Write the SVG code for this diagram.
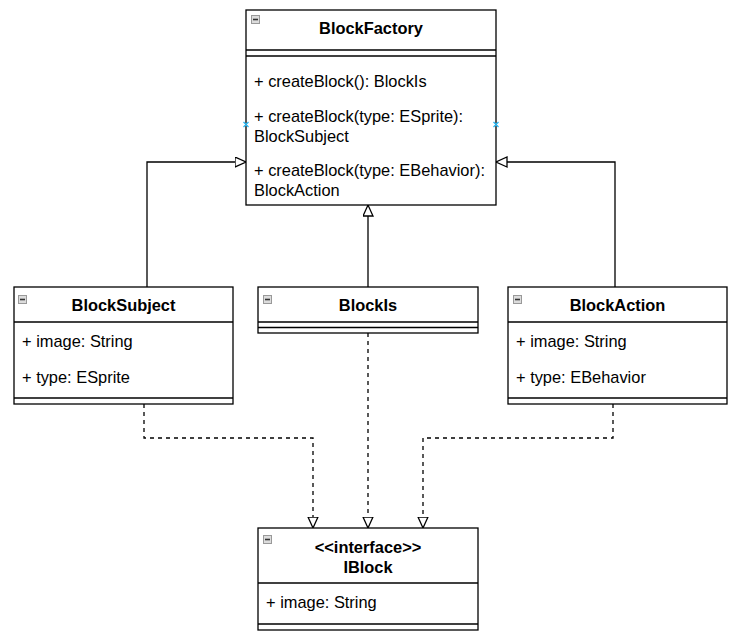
<svg xmlns="http://www.w3.org/2000/svg" width="740" height="640" viewBox="0 0 740 640">
<defs>
<style>
.box{fill:#fff;stroke:#000;stroke-width:1.3}
.ln{fill:none;stroke:#000;stroke-width:1.3}
.t{font-family:"Liberation Sans",Arial,sans-serif;font-size:16.4px;fill:#000}
.b{font-weight:bold;text-anchor:middle}
.icon{fill:#dcdcdc;stroke:#999;stroke-width:1}
.ibar{stroke:#333;stroke-width:1.6}
.edge{fill:none;stroke:#000;stroke-width:1.3}
.dash{stroke-dasharray:4 4}
.pt{stroke:#29b6f2;stroke-width:1.3}
</style>
<marker id="tri" markerUnits="userSpaceOnUse" markerWidth="14" markerHeight="12" refX="11.5" refY="5.5" orient="auto" viewBox="0 0 14 12">
<path d="M0.5,0.5 L11.5,5.5 L0.5,10.5 Z" fill="#fff" stroke="#000" stroke-width="1.3"/>
</marker>
</defs>
<rect width="740" height="640" fill="#fff"/>

<g id="connectors">
<path class="edge" d="M147,287 V162 H246" marker-end="url(#tri)"/>
<path class="edge" d="M368,287 V205" marker-end="url(#tri)"/>
<path class="edge" d="M615,287 V162 H496" marker-end="url(#tri)"/>
<path class="edge dash" d="M144,404 V438 H313 V528" marker-end="url(#tri)"/>
<path class="edge dash" d="M368,333 V528" marker-end="url(#tri)"/>
<path class="edge dash" d="M613,404 V438 H423 V528" marker-end="url(#tri)"/>
</g>

<g id="BlockFactory">
<rect class="box" x="246" y="10" width="250" height="195"/>
<line class="ln" x1="246" y1="50" x2="496" y2="50"/>
<line class="ln" x1="246" y1="56" x2="496" y2="56"/>
<rect class="icon" x="251.5" y="15.5" width="8" height="8"/>
<line class="ibar" x1="253" y1="19.5" x2="258" y2="19.5"/>
<text class="t b" x="371" y="34">BlockFactory</text>
<text class="t" x="254" y="87">+ createBlock(): BlockIs</text>
<text class="t" x="254" y="122">+ createBlock(type: ESprite):</text>
<text class="t" x="254" y="142">BlockSubject</text>
<text class="t" x="254" y="176">+ createBlock(type: EBehavior):</text>
<text class="t" x="254" y="196">BlockAction</text>
<path class="pt" d="M243.5,122 l5,5 M248.5,122 l-5,5 M493.5,122 l5,5 M498.5,122 l-5,5"/>
</g>

<g id="BlockSubject">
<rect class="box" x="14" y="287" width="219" height="117"/>
<line class="ln" x1="14" y1="322" x2="233" y2="322"/>
<line class="ln" x1="14" y1="398" x2="233" y2="398"/>
<rect class="icon" x="18.5" y="295.5" width="8" height="8"/>
<line class="ibar" x1="20" y1="299.5" x2="25" y2="299.5"/>
<text class="t b" x="123.5" y="311">BlockSubject</text>
<text class="t" x="22" y="347">+ image: String</text>
<text class="t" x="22" y="383">+ type: ESprite</text>
</g>

<g id="BlockIs">
<rect class="box" x="258" y="287" width="220" height="46"/>
<line class="ln" x1="258" y1="322" x2="478" y2="322"/>
<line class="ln" x1="258" y1="327.5" x2="478" y2="327.5"/>
<rect class="icon" x="263.5" y="295.5" width="8" height="8"/>
<line class="ibar" x1="265" y1="299.5" x2="270" y2="299.5"/>
<text class="t b" x="368" y="311">BlockIs</text>
</g>

<g id="BlockAction">
<rect class="box" x="508" y="287" width="219" height="117"/>
<line class="ln" x1="508" y1="322" x2="727" y2="322"/>
<line class="ln" x1="508" y1="398" x2="727" y2="398"/>
<rect class="icon" x="513.5" y="295.5" width="8" height="8"/>
<line class="ibar" x1="515" y1="299.5" x2="520" y2="299.5"/>
<text class="t b" x="617.5" y="311">BlockAction</text>
<text class="t" x="516" y="347">+ image: String</text>
<text class="t" x="516" y="383">+ type: EBehavior</text>
</g>

<g id="IBlock">
<rect class="box" x="258" y="528" width="220" height="102"/>
<line class="ln" x1="258" y1="583" x2="478" y2="583"/>
<line class="ln" x1="258" y1="624" x2="478" y2="624"/>
<rect class="icon" x="263.5" y="535.5" width="8" height="8"/>
<line class="ibar" x1="265" y1="539.5" x2="270" y2="539.5"/>
<text class="t b" x="368" y="553">&lt;&lt;interface&gt;&gt;</text>
<text class="t b" x="368" y="573">IBlock</text>
<text class="t" x="266" y="608">+ image: String</text>
</g>
</svg>
